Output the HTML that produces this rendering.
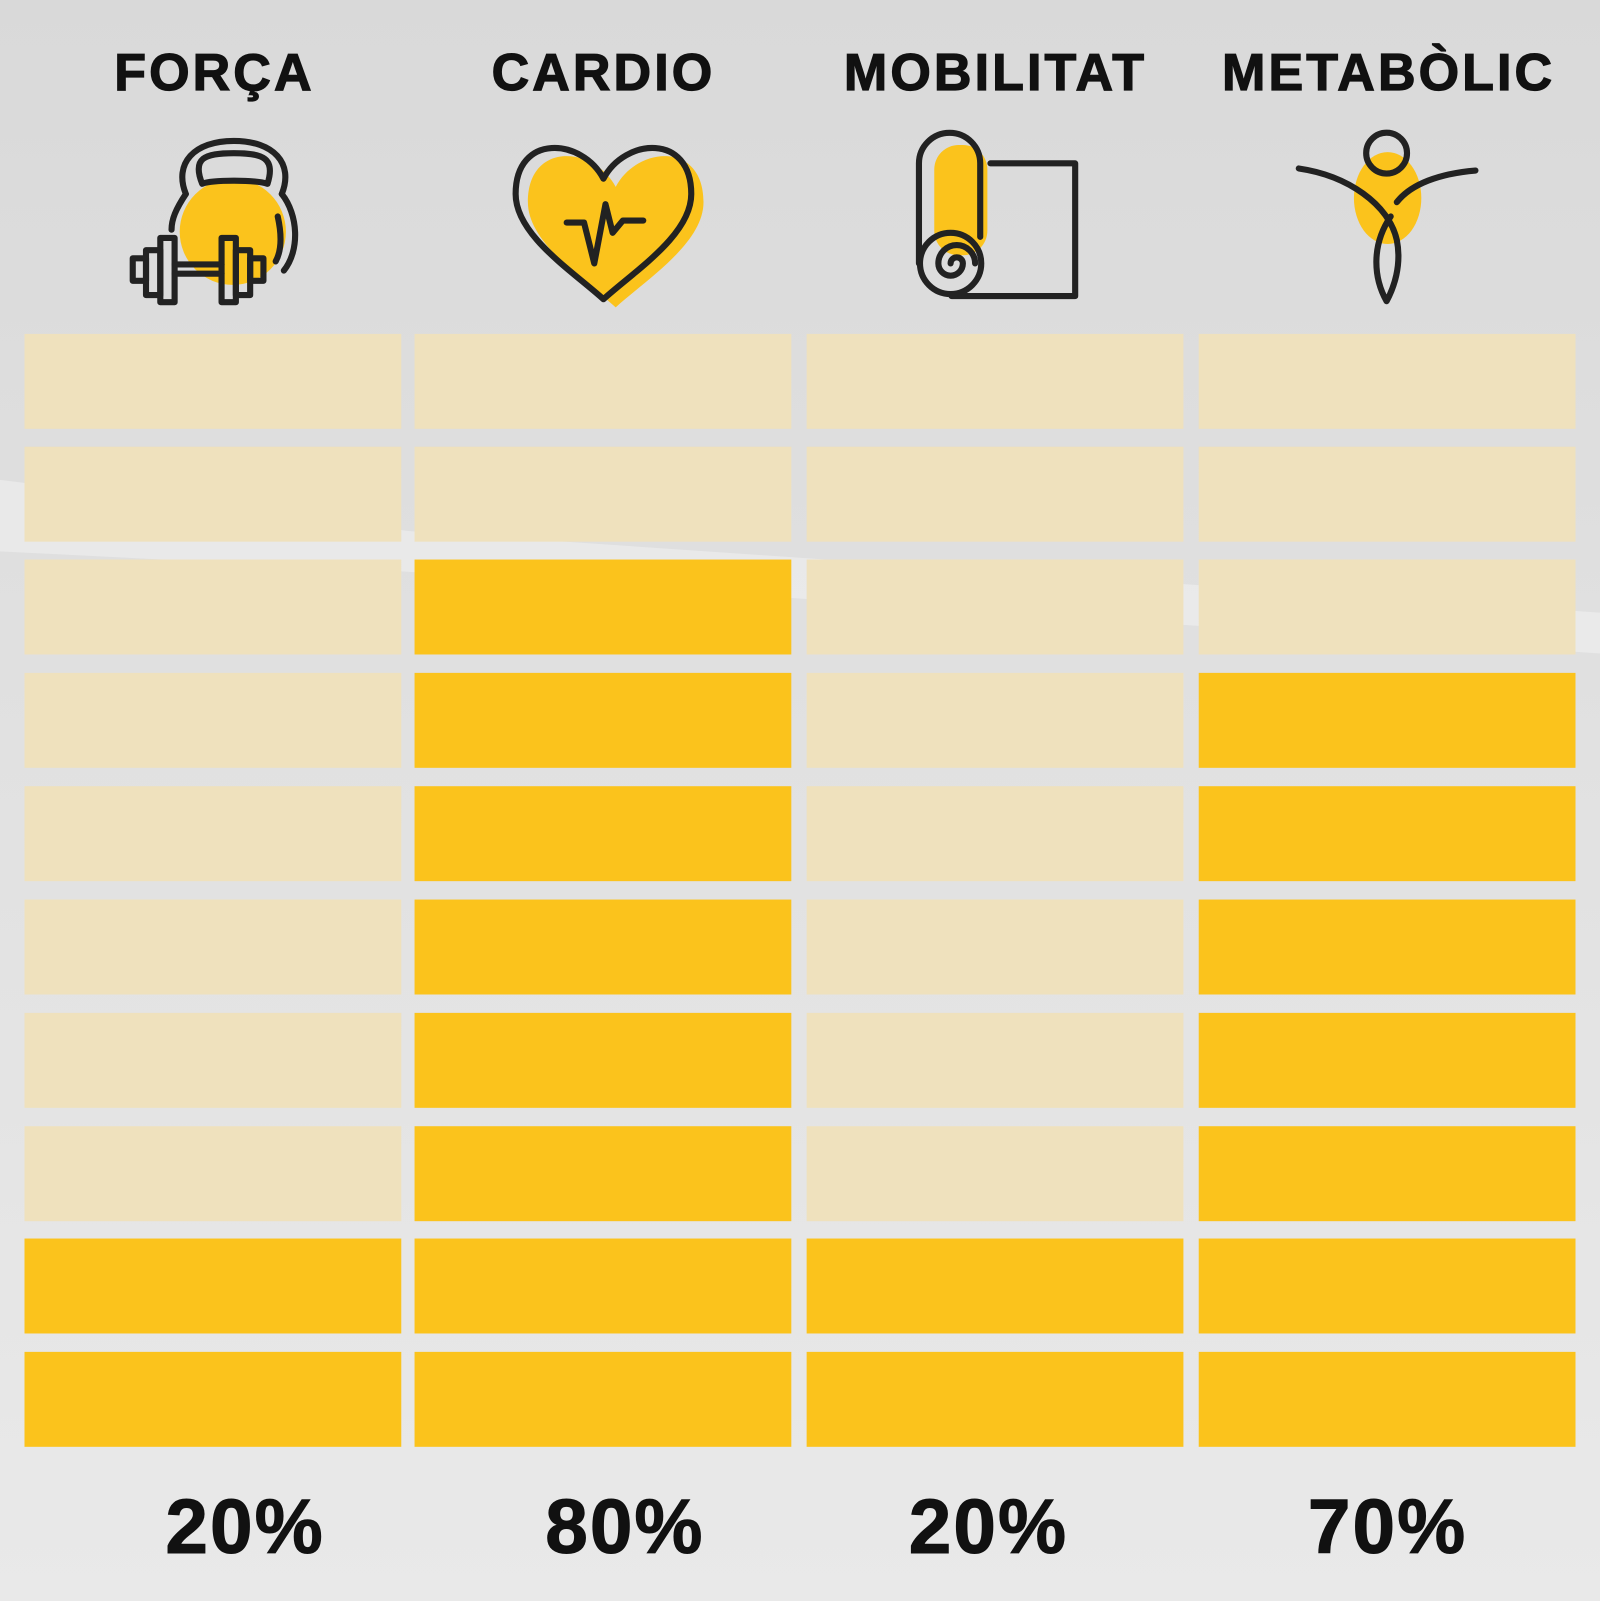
<!DOCTYPE html>
<html><head><meta charset="utf-8"><style>
html,body{margin:0;padding:0;width:1600px;height:1601px;overflow:hidden;background:#e2e2e2}
svg{display:block}
text{font-family:"Liberation Sans",sans-serif;font-weight:bold;fill:#111}
</style></head><body>
<svg width="1600" height="1601" viewBox="0 0 1567 1568" preserveAspectRatio="none">
<defs>
<linearGradient id="bg" x1="0" y1="0" x2="0" y2="1">
<stop offset="0" stop-color="#d9d9d9"/><stop offset="0.4" stop-color="#e0e0e0"/><stop offset="1" stop-color="#e9e9e9"/>
</linearGradient>
</defs>
<rect width="1567" height="1568" fill="url(#bg)"/>
<polygon points="0,470 400,520 1567,600 1567,640 400,560 0,540" fill="#f0f0f0" opacity="0.6"/>

<g fill="#efe1bd">
<rect x="24" y="327" width="369" height="93"/><rect x="406" y="327" width="369" height="93"/><rect x="790" y="327" width="369" height="93"/><rect x="1174" y="327" width="369" height="93"/>
<rect x="24" y="437.5" width="369" height="93"/><rect x="406" y="437.5" width="369" height="93"/><rect x="790" y="437.5" width="369" height="93"/><rect x="1174" y="437.5" width="369" height="93"/>
<rect x="24" y="548" width="369" height="93"/><rect x="790" y="548" width="369" height="93"/><rect x="1174" y="548" width="369" height="93"/>
<rect x="24" y="659" width="369" height="93"/><rect x="790" y="659" width="369" height="93"/>
<rect x="24" y="770" width="369" height="93"/><rect x="790" y="770" width="369" height="93"/>
<rect x="24" y="881" width="369" height="93"/><rect x="790" y="881" width="369" height="93"/>
<rect x="24" y="992" width="369" height="93"/><rect x="790" y="992" width="369" height="93"/>
<rect x="24" y="1103" width="369" height="93"/><rect x="790" y="1103" width="369" height="93"/>
</g>
<g fill="#fbc31c">
<rect x="406" y="548" width="369" height="93"/>
<rect x="406" y="659" width="369" height="93"/><rect x="1174" y="659" width="369" height="93"/>
<rect x="406" y="770" width="369" height="93"/><rect x="1174" y="770" width="369" height="93"/>
<rect x="406" y="881" width="369" height="93"/><rect x="1174" y="881" width="369" height="93"/>
<rect x="406" y="992" width="369" height="93"/><rect x="1174" y="992" width="369" height="93"/>
<rect x="406" y="1103" width="369" height="93"/><rect x="1174" y="1103" width="369" height="93"/>
<rect x="24" y="1213" width="369" height="93"/><rect x="406" y="1213" width="369" height="93"/><rect x="790" y="1213" width="369" height="93"/><rect x="1174" y="1213" width="369" height="93"/>
<rect x="24" y="1324" width="369" height="93"/><rect x="406" y="1324" width="369" height="93"/><rect x="790" y="1324" width="369" height="93"/><rect x="1174" y="1324" width="369" height="93"/>
</g>

<g font-size="51" letter-spacing="3" text-anchor="middle" stroke="#111" stroke-width="1.2">
<text x="210" y="88">FORÇA</text>
<text x="591" y="88">CARDIO</text>
<text x="975" y="88">MOBILITAT</text>
<text x="1360" y="88">METABÒLIC</text>
</g>
<g font-size="75" text-anchor="middle" letter-spacing="2" stroke="#111" stroke-width="1">
<text x="240" y="1521">20%</text>
<text x="612" y="1521">80%</text>
<text x="968" y="1521">20%</text>
<text x="1359" y="1521">70%</text>
</g>

<!-- kettlebell -->
<circle cx="228" cy="227" r="52" fill="#fbc31c"/>
<g fill="none" stroke="#222" stroke-width="6" stroke-linecap="round" stroke-linejoin="round">
<path d="M182,190 C170,160 190,138 229,138 C268,138 288,160 276,190"/>
<path d="M198,180 C188,155 200,150 229,150 C258,150 270,155 262,180 C250,176 208,176 198,180 Z"/>
<path d="M182,190 C172,205 168,215 168,225"/>
<path d="M276,190 C292,210 294,245 278,265"/>
<path d="M272,212 C276,230 276,245 270,256"/>
<rect x="157" y="233" width="14" height="63"/>
<rect x="217" y="233" width="14" height="63"/>
<rect x="143" y="245" width="14" height="44"/>
<rect x="231" y="245" width="14" height="44"/>
<rect x="130" y="253" width="13" height="22"/>
<rect x="245" y="253" width="13" height="22"/>
<path d="M171,259 L217,259 M171,268 L217,268"/>
</g>

<!-- heart -->
<path d="M603,183 C582,143 517,138 517,198 C517,238 572,273 603,301 C634,273 689,238 689,198 C689,138 624,143 603,183 Z" fill="#fbc31c"/>
<g fill="none" stroke="#222" stroke-width="6" stroke-linecap="round" stroke-linejoin="round">
<path d="M591,175 C570,135 505,130 505,190 C505,230 560,265 591,293 C622,265 677,230 677,190 C677,130 612,135 591,175 Z"/>
<path d="M555,218 L572,218 L582,258 L593,200 L600,228 L610,216 L630,216"/>
</g>

<!-- mat -->
<rect x="915" y="142" width="52" height="108" rx="24" fill="#fbc31c"/>
<g fill="none" stroke="#222" stroke-width="6" stroke-linecap="round" stroke-linejoin="round">
<path d="M900,258 L900,160 A30,30 0 0 1 960,160 L960,232"/>
<path d="M970,160 L1053,160 L1053,290 L932,290"/>
<circle cx="931" cy="258" r="30"/>
<path d="M931,258 A6,6 0 0 1 943,258 A12,12 0 0 1 919,258 A18,18 0 0 1 955,258"/>
</g>

<!-- person -->
<ellipse cx="1359" cy="194" rx="33" ry="45" fill="#fbc31c"/>
<g fill="none" stroke="#222" stroke-width="6" stroke-linecap="round" stroke-linejoin="round">
<circle cx="1358" cy="150" r="20"/>
<path d="M1272,165 C1320,172 1360,200 1368,235 C1373,260 1365,282 1358,295 C1345,272 1343,240 1362,212"/>
<path d="M1445,167 C1410,170 1382,180 1368,198"/>
</g>
</svg>
</body></html>
